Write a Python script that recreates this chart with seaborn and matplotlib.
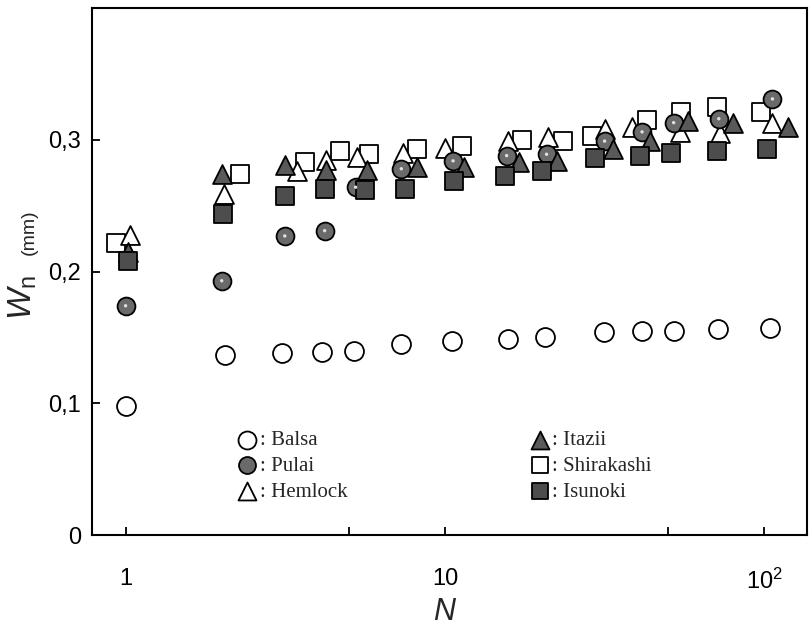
import matplotlib
matplotlib.use("Agg")
import matplotlib.pyplot as plt
import seaborn as sns
import pandas as pd
from matplotlib.ticker import FixedLocator, FixedFormatter, NullFormatter

# ---- data (N = number of cycles, Wn in mm) ----
balsa_n = [1.0, 2.05, 3.08, 4.12, 5.19, 7.3, 10.5, 15.7, 20.6, 31.4, 41.5, 52.0, 71.8, 104.0]
balsa_w = [0.098, 0.137, 0.138, 0.139, 0.140, 0.145, 0.147, 0.149, 0.150, 0.154, 0.155, 0.155, 0.156, 0.157]

pulai_n = [1.0, 2.0, 3.15, 4.2, 5.25, 7.3, 10.6, 15.6, 20.8, 31.6, 41.4, 52.0, 72.0, 106.0]
pulai_w = [0.174, 0.193, 0.227, 0.231, 0.264, 0.278, 0.284, 0.288, 0.289, 0.299, 0.306, 0.313, 0.316, 0.331]

hemlock_n = [1.03, 2.03, 3.43, 4.23, 5.29, 7.39, 10.0, 15.8, 21.0, 31.7, 38.5, 54.4, 72.6, 105.3]
hemlock_w = [0.228, 0.259, 0.276, 0.285, 0.287, 0.290, 0.294, 0.299, 0.302, 0.308, 0.310, 0.306, 0.305, 0.313]

itazii_n = [1.02, 2.0, 3.16, 4.23, 5.71, 8.2, 11.5, 17.0, 22.4, 33.6, 43.8, 57.8, 79.8, 118.8]
itazii_w = [0.215, 0.274, 0.281, 0.277, 0.277, 0.279, 0.279, 0.283, 0.284, 0.293, 0.299, 0.314, 0.313, 0.310]

shirakashi_n = [0.93, 2.28, 3.65, 4.7, 5.8, 8.17, 11.3, 17.4, 23.5, 28.8, 43.0, 55.0, 71.3, 97.5]
shirakashi_w = [0.222, 0.274, 0.283, 0.2915, 0.289, 0.293, 0.295, 0.300, 0.299, 0.303, 0.315, 0.321, 0.325, 0.321]

isunoki_n = [1.02, 2.02, 3.16, 4.2, 5.62, 7.5, 10.7, 15.4, 20.1, 29.5, 40.8, 51.2, 70.9, 101.6]
isunoki_w = [0.208, 0.2435, 0.257, 0.2624, 0.262, 0.263, 0.2687, 0.2725, 0.2763, 0.2865, 0.2877, 0.2903, 0.2915, 0.2928]

x_ticks = [1, 10, 100]
x_tick_labels = ["1", "10", r"10$^2$"]
x_minor_ticks = [5, 50]
y_ticks = [0, 0.1, 0.2, 0.3]
y_tick_labels = ["0", "0,1", "0,2", "0,3"]

# ---- styling ----
sns.set_theme(style="ticks")
plt.rcParams["font.family"] = ["Liberation Sans", "DejaVu Sans"]
plt.rcParams["mathtext.fontset"] = "custom"
plt.rcParams["mathtext.rm"] = "Liberation Sans"
plt.rcParams["mathtext.it"] = "Liberation Sans:italic"

fig = plt.figure(figsize=(8.1, 6.27), dpi=100)
ax = fig.add_axes([0.1136, 0.1467, 0.8827, 0.8405])
ax.set_xscale("log")

series = [
    ("Balsa", balsa_n, balsa_w, "o", "white", 185),
    ("Shirakashi", shirakashi_n, shirakashi_w, "s", "white", 160),
    ("Hemlock", hemlock_n, hemlock_w, "^", "white", 185),
    ("Pulai", pulai_n, pulai_w, "o", "#6a6a6a", 165),
    ("Itazii", itazii_n, itazii_w, "^", "#595959", 185),
    ("Isunoki", isunoki_n, isunoki_w, "s", "#4d4d4d", 160),
]

handles = {}
for name, xs, ys, mk, fc, size in series:
    df = pd.DataFrame({"N": xs, "W": ys})
    sns.scatterplot(data=df, x="N", y="W", ax=ax, marker=mk, s=size,
                    color=fc, edgecolor="black", linewidth=1.3,
                    label=name, zorder=3, legend=False)
    handles[name] = ax.collections[-1]

# small light centre spot on the Pulai circles
sns.scatterplot(x=pulai_n, y=pulai_w, ax=ax, marker="o", s=6, color="#e0e0e0",
                edgecolor="none", legend=False, zorder=4)

ax.set_xlim(0.785, 136)
ax.set_ylim(0, 0.40)

ax.xaxis.set_major_locator(FixedLocator(x_ticks))
ax.xaxis.set_major_formatter(FixedFormatter(x_tick_labels))
ax.xaxis.set_minor_locator(FixedLocator(x_minor_ticks))
ax.xaxis.set_minor_formatter(NullFormatter())
ax.set_yticks(y_ticks)
ax.set_yticklabels(y_tick_labels)

ax.tick_params(axis="x", which="both", direction="in", length=6, width=1.3,
               pad=24, labelsize=17, colors="black")
ax.tick_params(axis="y", which="both", direction="in", length=6, width=1.3,
               pad=8, labelsize=17, colors="black")
for sp in ax.spines.values():
    sp.set_linewidth(1.5)
    sp.set_color("black")

ax.set_xlabel(r"$N$", fontsize=22)
ax.xaxis.set_label_coords(0.494, -0.118)
ax.set_ylabel(r"$W_{\mathrm{n}}$", fontsize=24, labelpad=0)
ax.yaxis.set_label_coords(-0.074, 0.45)
fig.text(29 / 810, 1 - 232 / 627, "(mm)", rotation=90, fontsize=14,
         ha="center", va="center")

leg_font = {"family": "Liberation Serif", "size": 15}
col1 = ["Balsa", "Pulai", "Hemlock"]
col2 = ["Itazii", "Shirakashi", "Isunoki"]
leg1 = ax.legend([handles[n] for n in col1], [": " + n for n in col1],
                 loc="upper left", bbox_to_anchor=(0.185, 0.218), frameon=False,
                 prop=leg_font, handletextpad=0.0, labelspacing=0.3,
                 borderpad=0, handlelength=1.2, markerscale=0.95)
ax.add_artist(leg1)
ax.legend([handles[n] for n in col2], [": " + n for n in col2],
          loc="upper left", bbox_to_anchor=(0.594, 0.218), frameon=False,
          prop=leg_font, handletextpad=0.0, labelspacing=0.3,
          borderpad=0, handlelength=1.2, markerscale=0.95)

fig.savefig("out.png", dpi=100)
